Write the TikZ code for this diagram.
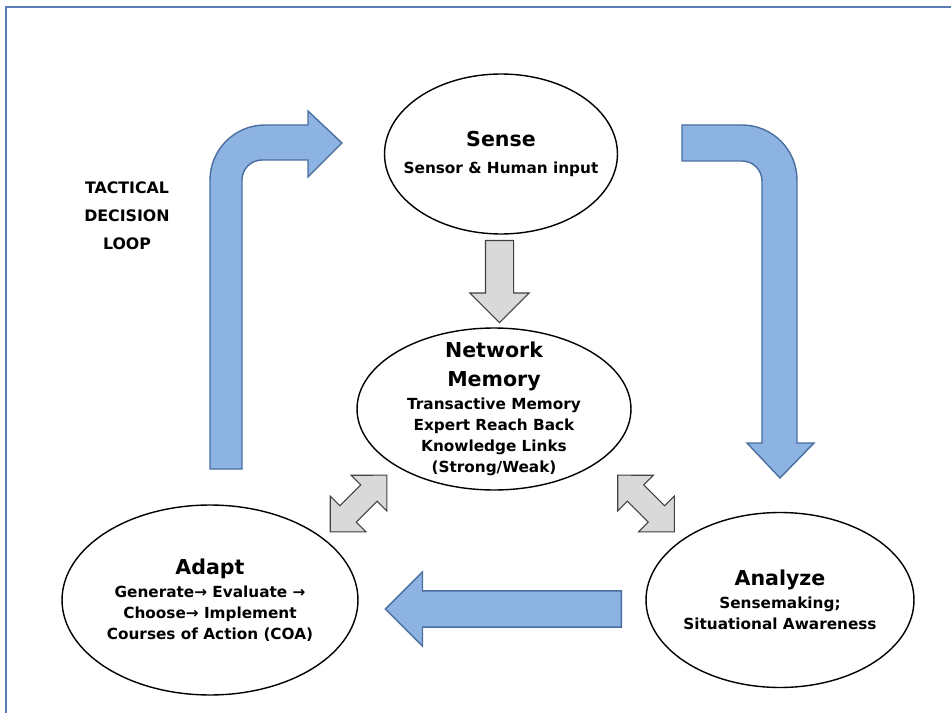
\documentclass[tikz,border=0pt]{standalone}
\usepackage{fontspec}
\setmainfont{DejaVu Sans}
\usetikzlibrary{shapes, arrows}
\usepackage{xcolor}

\definecolor{blueFill}{HTML}{8DB3E2}
\definecolor{blueEdge}{HTML}{4A6E9E}
\definecolor{grayFill}{HTML}{D9D9D9}
\definecolor{grayEdge}{HTML}{404040}
\definecolor{frameBlue}{HTML}{5A7DB3}

\begin{document}
\begin{tikzpicture}[x=0.02cm, y=0.02cm,
		stage/.style={draw, ellipse, line width=0.8pt, inner sep=0pt},
		stagetext/.style={align=center, inner sep=0pt, font=\bfseries\fontsize{8.7}{12}\selectfont},
		bluearrow/.style={fill=blueFill, draw=blueEdge, line width=0.8pt},
		grayarrow/.style={fill=grayFill, draw=grayEdge, line width=0.6pt, inner xsep=0pt}]
				\newcommand{\mytitle}[1]{
					\fontsize{11.7}{14}\selectfont{#1}
				}%
				\useasboundingbox (0,0) rectangle (951,-713);
				%Frame of the figure
				\draw[frameBlue, line width=1.4pt] (6,-713) -- (6,-7) -- (951,-7);
				%The four stages of the loop
				\node[stage, minimum width=4.66cm, minimum height=3.2cm] (sense) at (501,-154) {};
				\node[stagetext] (senseText) at (sense.center)
					{\mytitle{Sense}\\[3pt]Sensor \& Human input};
				\node[stage, minimum width=5.48cm, minimum height=3.24cm] (memory) at (494,-409) {};
				\node[stagetext] (memoryText) at (memory.center)
					{\mytitle{Network}\\[4.4pt]\mytitle{Memory}\\[1pt]Transactive Memory\\
					Expert Reach Back\\Knowledge Links\\(Strong/Weak)};
				\node[stage, minimum width=5.92cm, minimum height=3.8cm] (adapt) at (210,-600) {};
				\node[stagetext] (adaptText) at (adapt.center)
					{\mytitle{Adapt}\\[1pt]Generate→ Evaluate →\\Choose→ Implement\\
					Courses of Action (COA)};
				\node[stage, minimum width=5.36cm, minimum height=3.5cm] (analyze) at (780,-600) {};
				\node[stagetext] (analyzeText) at (analyze.center)
					{\mytitle{Analyze}\\[1pt]Sensemaking;\\Situational Awareness};
				%Label on the left
				\node[align=center, font=\bfseries\fontsize{9}{16}\selectfont] (looplabel) at (127,-216)
					{TACTICAL\\DECISION\\LOOP};
				%Bent arrow from adapt up to sense
				\draw[bluearrow] (210,-469) -- (210,-180) arc[start angle=180, end angle=90, radius=55]
					-- (308,-125) -- (308,-111) -- (342,-143) -- (308,-177) -- (308,-160)
					-- (262,-160) arc[start angle=90, end angle=180, radius=20] -- (242,-469) -- cycle;
				%Bent arrow from sense down to analyze
				\draw[bluearrow] (682,-125) -- (742,-125) arc[start angle=90, end angle=0, radius=55]
					-- (797,-443) -- (814,-443) -- (780,-478) -- (747,-443) -- (762,-443)
					-- (762,-181) arc[start angle=0, end angle=90, radius=20] -- (682,-161) -- cycle;
				%Arrow from analyze to adapt
				\node[bluearrow, single arrow, single arrow tip angle=90, inner xsep=0pt,
					inner ysep=0.35cm, single arrow head extend=0.38cm, minimum height=4.72cm,
					rotate=180, anchor=tail] (analyze2adapt) at (622,-609) {};
				%Gray arrows round the memory
				\node[grayarrow, single arrow, single arrow tip angle=90, inner ysep=0.27cm,
					single arrow head extend=0.31cm, minimum height=1.64cm,
					rotate=-90, anchor=tail] (sense2memory) at (499.5,-240) {};
				\node[grayarrow, double arrow, double arrow tip angle=90, inner ysep=0.22cm,
					double arrow head extend=0.275cm, minimum height=1.6cm,
					rotate=45] (memory2adapt) at (358.5,-503.5) {};
				\node[grayarrow, double arrow, double arrow tip angle=90, inner ysep=0.22cm,
					double arrow head extend=0.275cm, minimum height=1.6cm,
					rotate=-45] (memory2analyze) at (646,-503.5) {};
\end{tikzpicture}
\end{document}
